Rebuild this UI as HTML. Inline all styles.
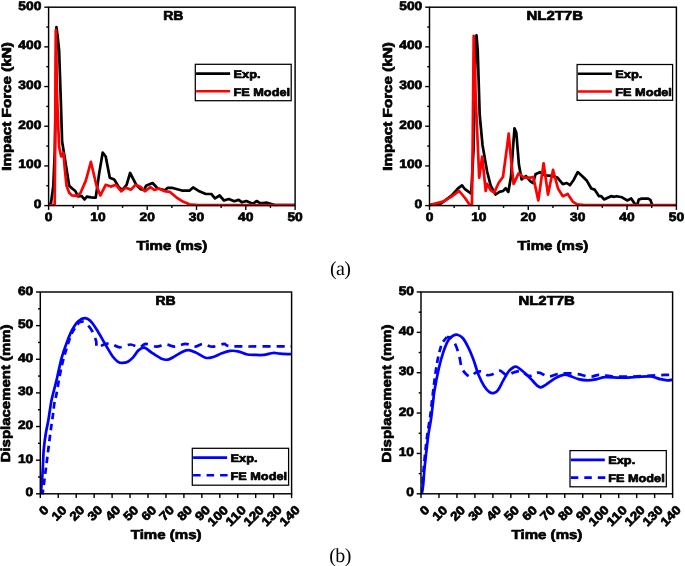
<!DOCTYPE html>
<html><head><meta charset="utf-8"><title>Figure</title>
<style>
html,body{margin:0;padding:0;background:#fff;}
body{width:685px;height:566px;overflow:hidden;font-family:"Liberation Sans",sans-serif;}
svg{display:block;}
svg text{text-rendering:geometricPrecision;font-family:"Liberation Sans",sans-serif;font-weight:bold;fill:#000;stroke:#000;stroke-width:0.7px;stroke-linejoin:round;}
svg text.ser{font-family:"Liberation Serif",serif;font-weight:normal;stroke:none;}
</style></head>
<body>
<svg width="685" height="566" viewBox="0 0 685 566">
<rect x="0" y="0" width="685" height="566" fill="#fff"/>
<clipPath id="c48_7"><rect x="48.6" y="5.2" width="246.50000000000003" height="201.0"/></clipPath>
<g clip-path="url(#c48_7)">
<polyline points="48.6,205.0 51.0,203.0 53.3,186.0 54.8,150.0 55.7,100.0 56.4,27.0 57.6,36.0 59.1,50.3 60.8,100.0 62.1,141.5 64.7,157.4 67.0,172.0 69.2,185.7 72.2,188.5 75.3,191.0 78.0,196.3 81.5,195.9 84.5,199.5 86.8,196.6 91.0,197.3 95.7,197.7 99.2,173.3 102.7,152.5 105.7,156.5 109.8,177.7 114.2,179.5 118.6,186.6 122.2,190.1 126.6,184.8 130.1,173.0 136.3,184.8 140.7,189.2 144.2,190.1 146.0,185.7 149.5,184.3 152.6,183.0 157.7,188.5 165.3,190.2 167.5,187.8 171.9,187.8 182.8,190.7 189.4,190.7 193.1,187.4 199.3,191.3 205.8,194.0 211.3,194.0 215.0,198.3 219.6,195.5 224.0,200.5 228.8,199.0 234.3,201.2 238.7,199.9 242.0,202.3 246.3,201.0 252.9,203.8 256.6,201.0 260.6,203.4 267.1,202.7 274.8,205.0 295.0,205.0" fill="none" stroke="#000" stroke-width="2.7" stroke-linejoin="round" stroke-linecap="butt"/>
<polyline points="48.6,205.0 54.7,205.0 55.1,150.0 55.8,30.0 56.9,90.0 58.2,125.0 59.1,146.8 61.2,156.5 63.5,153.0 64.7,168.0 66.5,185.7 69.2,192.7 71.8,195.4 77.1,195.9 80.6,192.7 85.9,180.4 90.9,161.8 96.5,185.7 100.4,195.4 105.7,184.8 110.7,186.6 116.0,184.8 121.3,191.3 125.7,187.8 131.0,189.6 135.4,184.8 140.7,187.1 145.1,191.3 150.4,187.1 154.4,190.0 158.8,188.5 164.2,191.1 169.7,191.8 176.3,197.3 182.8,201.6 189.4,204.3 198.2,205.1 295.0,205.1" fill="none" stroke="#f00" stroke-width="2.7" stroke-linejoin="round" stroke-linecap="butt"/>
</g>
<rect x="48.60" y="7.20" width="246.50" height="198.40" fill="none" stroke="#000" stroke-width="1.45"/>
<line x1="44.30" y1="205.60" x2="48.60" y2="205.60" stroke="#000" stroke-width="1.4"/>
<line x1="46.30" y1="185.76" x2="48.60" y2="185.76" stroke="#000" stroke-width="1.4"/>
<line x1="44.30" y1="165.92" x2="48.60" y2="165.92" stroke="#000" stroke-width="1.4"/>
<line x1="46.30" y1="146.08" x2="48.60" y2="146.08" stroke="#000" stroke-width="1.4"/>
<line x1="44.30" y1="126.24" x2="48.60" y2="126.24" stroke="#000" stroke-width="1.4"/>
<line x1="46.30" y1="106.40" x2="48.60" y2="106.40" stroke="#000" stroke-width="1.4"/>
<line x1="44.30" y1="86.56" x2="48.60" y2="86.56" stroke="#000" stroke-width="1.4"/>
<line x1="46.30" y1="66.72" x2="48.60" y2="66.72" stroke="#000" stroke-width="1.4"/>
<line x1="44.30" y1="46.88" x2="48.60" y2="46.88" stroke="#000" stroke-width="1.4"/>
<line x1="46.30" y1="27.04" x2="48.60" y2="27.04" stroke="#000" stroke-width="1.4"/>
<line x1="44.30" y1="7.20" x2="48.60" y2="7.20" stroke="#000" stroke-width="1.4"/>
<line x1="48.60" y1="205.60" x2="48.60" y2="209.90" stroke="#000" stroke-width="1.4"/>
<line x1="73.25" y1="205.60" x2="73.25" y2="207.90" stroke="#000" stroke-width="1.4"/>
<line x1="97.90" y1="205.60" x2="97.90" y2="209.90" stroke="#000" stroke-width="1.4"/>
<line x1="122.55" y1="205.60" x2="122.55" y2="207.90" stroke="#000" stroke-width="1.4"/>
<line x1="147.20" y1="205.60" x2="147.20" y2="209.90" stroke="#000" stroke-width="1.4"/>
<line x1="171.85" y1="205.60" x2="171.85" y2="207.90" stroke="#000" stroke-width="1.4"/>
<line x1="196.50" y1="205.60" x2="196.50" y2="209.90" stroke="#000" stroke-width="1.4"/>
<line x1="221.15" y1="205.60" x2="221.15" y2="207.90" stroke="#000" stroke-width="1.4"/>
<line x1="245.80" y1="205.60" x2="245.80" y2="209.90" stroke="#000" stroke-width="1.4"/>
<line x1="270.45" y1="205.60" x2="270.45" y2="207.90" stroke="#000" stroke-width="1.4"/>
<line x1="295.10" y1="205.60" x2="295.10" y2="209.90" stroke="#000" stroke-width="1.4"/>
<rect x="195.3" y="64.3" width="95.89999999999998" height="36.400000000000006" fill="#fff" stroke="#000" stroke-width="1.25"/>
<line x1="196.10" y1="73.60" x2="230.10" y2="73.60" stroke="#000" stroke-width="2.6"/>
<line x1="196.10" y1="91.30" x2="230.10" y2="91.30" stroke="#f00" stroke-width="2.6"/>
<clipPath id="c429_7"><rect x="429.5" y="5.2" width="246.89999999999998" height="201.0"/></clipPath>
<g clip-path="url(#c429_7)">
<polyline points="429.5,205.1 441.2,203.3 451.8,195.4 458.0,188.3 462.0,185.3 465.0,189.2 471.2,193.6 473.5,150.0 475.3,60.0 476.5,35.3 477.7,50.0 479.7,115.0 482.5,145.0 487.1,171.5 490.7,185.7 495.6,194.5 499.5,191.9 503.0,191.0 505.7,188.3 508.3,191.9 511.0,176.8 512.8,150.3 514.5,128.3 516.3,132.7 518.9,164.5 521.6,179.5 526.0,176.0 530.4,181.3 533.1,183.0 535.5,174.3 539.9,172.1 545.3,175.4 551.9,175.8 557.4,177.6 562.8,184.1 566.8,183.0 569.9,185.2 573.8,179.7 577.7,172.1 582.6,176.5 586.9,180.8 591.3,188.5 594.6,189.6 599.0,196.2 601.2,196.2 604.0,199.4 611.0,196.2 614.3,196.8 616.5,196.2 622.0,197.3 627.4,200.5 631.2,198.4 635.1,204.3 637.3,204.3 638.8,199.5 641.7,198.6 648.2,198.6 650.4,199.9 652.2,205.0" fill="none" stroke="#000" stroke-width="2.7" stroke-linejoin="round" stroke-linecap="butt"/>
<polyline points="429.5,205.1 443.0,201.6 451.8,196.3 459.2,191.0 465.0,198.0 469.8,205.1 471.9,205.1 472.3,180.0 472.8,130.0 473.7,35.8 475.8,100.0 479.2,177.7 482.2,156.5 485.7,191.0 487.1,183.9 490.7,190.1 494.2,192.7 498.6,183.0 503.0,176.8 506.6,150.3 508.7,133.6 511.0,159.2 513.6,183.9 518.6,173.3 524.2,177.7 530.0,177.6 533.3,177.1 538.3,200.5 543.6,163.3 548.0,194.6 553.0,169.9 558.0,188.5 562.8,196.2 567.7,194.0 572.7,201.6 577.1,204.3 584.7,205.1 676.0,205.1" fill="none" stroke="#f00" stroke-width="2.7" stroke-linejoin="round" stroke-linecap="butt"/>
</g>
<rect x="429.50" y="7.20" width="246.90" height="198.40" fill="none" stroke="#000" stroke-width="1.45"/>
<line x1="425.20" y1="205.60" x2="429.50" y2="205.60" stroke="#000" stroke-width="1.4"/>
<line x1="427.20" y1="185.76" x2="429.50" y2="185.76" stroke="#000" stroke-width="1.4"/>
<line x1="425.20" y1="165.92" x2="429.50" y2="165.92" stroke="#000" stroke-width="1.4"/>
<line x1="427.20" y1="146.08" x2="429.50" y2="146.08" stroke="#000" stroke-width="1.4"/>
<line x1="425.20" y1="126.24" x2="429.50" y2="126.24" stroke="#000" stroke-width="1.4"/>
<line x1="427.20" y1="106.40" x2="429.50" y2="106.40" stroke="#000" stroke-width="1.4"/>
<line x1="425.20" y1="86.56" x2="429.50" y2="86.56" stroke="#000" stroke-width="1.4"/>
<line x1="427.20" y1="66.72" x2="429.50" y2="66.72" stroke="#000" stroke-width="1.4"/>
<line x1="425.20" y1="46.88" x2="429.50" y2="46.88" stroke="#000" stroke-width="1.4"/>
<line x1="427.20" y1="27.04" x2="429.50" y2="27.04" stroke="#000" stroke-width="1.4"/>
<line x1="425.20" y1="7.20" x2="429.50" y2="7.20" stroke="#000" stroke-width="1.4"/>
<line x1="429.50" y1="205.60" x2="429.50" y2="209.90" stroke="#000" stroke-width="1.4"/>
<line x1="454.19" y1="205.60" x2="454.19" y2="207.90" stroke="#000" stroke-width="1.4"/>
<line x1="478.88" y1="205.60" x2="478.88" y2="209.90" stroke="#000" stroke-width="1.4"/>
<line x1="503.57" y1="205.60" x2="503.57" y2="207.90" stroke="#000" stroke-width="1.4"/>
<line x1="528.26" y1="205.60" x2="528.26" y2="209.90" stroke="#000" stroke-width="1.4"/>
<line x1="552.95" y1="205.60" x2="552.95" y2="207.90" stroke="#000" stroke-width="1.4"/>
<line x1="577.64" y1="205.60" x2="577.64" y2="209.90" stroke="#000" stroke-width="1.4"/>
<line x1="602.33" y1="205.60" x2="602.33" y2="207.90" stroke="#000" stroke-width="1.4"/>
<line x1="627.02" y1="205.60" x2="627.02" y2="209.90" stroke="#000" stroke-width="1.4"/>
<line x1="651.71" y1="205.60" x2="651.71" y2="207.90" stroke="#000" stroke-width="1.4"/>
<line x1="676.40" y1="205.60" x2="676.40" y2="209.90" stroke="#000" stroke-width="1.4"/>
<rect x="577.1" y="64.5" width="95.5" height="35.8" fill="#fff" stroke="#000" stroke-width="1.25"/>
<line x1="577.90" y1="73.80" x2="611.90" y2="73.80" stroke="#000" stroke-width="2.6"/>
<line x1="577.90" y1="91.50" x2="611.90" y2="91.50" stroke="#f00" stroke-width="2.6"/>
<clipPath id="c40_292"><rect x="40.3" y="292.0" width="251.3" height="202.4"/></clipPath>
<g clip-path="url(#c40_292)">
<path d="M40.7,494.0 C41.0,491.2 41.9,482.7 42.3,477.0 C42.7,471.3 43.0,464.5 43.2,460.0 C43.4,455.5 43.3,454.3 43.7,450.0 C44.1,445.7 44.9,439.0 45.7,434.0 C46.5,429.0 47.7,424.1 48.4,420.0 C49.1,415.9 49.4,412.9 50.0,409.4 C50.6,405.9 50.6,404.3 51.8,399.0 C53.0,393.7 55.5,384.5 57.1,377.7 C58.7,370.9 59.9,364.2 61.5,358.3 C63.1,352.4 65.0,347.1 66.8,342.4 C68.6,337.7 70.2,333.5 72.1,330.0 C74.0,326.5 76.1,323.2 78.3,321.2 C80.5,319.2 83.2,318.0 85.4,318.2 C87.6,318.4 89.3,319.7 91.5,322.1 C93.7,324.5 96.2,328.9 98.6,332.7 C101.0,336.5 103.3,341.0 105.7,345.0 C108.1,349.0 110.7,353.7 112.7,356.5 C114.8,359.3 116.4,360.7 118.0,361.8 C119.6,362.9 120.9,362.9 122.5,362.9 C124.1,362.9 126.0,362.7 127.8,361.8 C129.6,360.9 131.3,359.3 133.1,357.4 C134.9,355.5 136.5,352.0 138.4,350.4 C140.3,348.8 142.3,347.3 144.5,347.7 C146.7,348.1 148.9,350.8 151.7,352.6 C154.4,354.4 158.3,357.2 161.0,358.4 C163.7,359.6 165.7,360.0 168.0,359.6 C170.3,359.2 172.5,357.5 175.0,356.1 C177.5,354.7 180.9,352.4 183.2,351.4 C185.5,350.4 186.9,350.0 189.0,350.2 C191.1,350.4 193.3,351.4 196.0,352.6 C198.7,353.9 202.7,356.9 205.4,357.7 C208.1,358.5 209.7,357.9 212.4,357.2 C215.1,356.5 218.9,354.4 221.8,353.3 C224.7,352.2 227.3,351.2 230.0,350.9 C232.7,350.6 235.3,350.8 238.0,351.4 C240.7,351.9 243.6,353.6 246.3,354.2 C249.1,354.8 251.6,354.8 254.5,354.9 C257.4,355.0 260.7,355.2 263.8,354.9 C266.9,354.6 270.4,353.2 273.1,353.0 C275.8,352.8 277.0,353.5 280.0,353.7 C283.0,353.9 289.2,354.1 291.0,354.2" fill="none" stroke="#0000ff" stroke-width="2.7" stroke-linejoin="round"/>
<path d="M41.5,494.0 C41.7,493.8 41.9,496.6 42.6,492.9 C43.3,489.2 44.7,477.8 45.5,471.6 C46.3,465.5 46.7,462.5 47.5,456.0 C48.3,449.5 49.5,439.5 50.4,432.7 C51.3,425.9 52.2,420.0 52.9,415.2 C53.5,410.4 53.8,406.9 54.3,403.6 C54.8,400.3 55.0,401.5 56.2,395.4 C57.4,389.3 59.7,374.9 61.5,367.0 C63.3,359.1 65.0,353.4 66.8,347.7 C68.6,342.0 70.0,337.0 72.1,332.7 C74.2,328.4 78.0,323.9 79.2,322.1" fill="none" stroke="#0000ff" stroke-width="2.7" stroke-linejoin="round" stroke-dasharray="6.5 4.5"/>
<path d="M79.2,322.1 C80.1,322.1 82.5,320.8 84.5,322.1 C86.5,323.4 89.6,326.9 91.5,330.0 C93.4,333.1 95.0,337.7 96.0,340.6 C97.0,343.5 95.6,346.8 97.2,347.3 C98.8,347.8 103.1,344.3 105.7,343.8 C108.3,343.3 110.4,343.9 112.7,344.5 C115.0,345.1 116.8,347.3 119.8,347.3 C122.8,347.3 127.2,344.5 130.4,344.5 C133.6,344.5 136.6,347.4 139.2,347.3 C141.8,347.2 142.9,344.0 145.8,343.9 C148.7,343.8 153.1,346.6 156.4,346.7 C159.7,346.8 162.6,344.4 165.7,344.4 C168.8,344.4 171.7,346.8 175.0,346.7 C178.3,346.6 182.2,343.9 185.5,343.9 C188.8,343.9 192.0,346.7 194.9,346.7 C197.8,346.7 200.1,343.9 203.0,343.9 C205.9,343.9 208.9,346.7 212.4,346.7 C215.9,346.7 220.5,344.0 224.0,343.9 C227.5,343.8 222.2,345.9 233.4,346.3 C244.6,346.7 281.4,346.3 291.0,346.3" fill="none" stroke="#0000ff" stroke-width="2.7" stroke-linejoin="round" stroke-dasharray="8 6" stroke-dashoffset="3.42"/>
</g>
<rect x="40.30" y="292.00" width="251.30" height="201.80" fill="none" stroke="#000" stroke-width="1.45"/>
<line x1="36.00" y1="493.80" x2="40.30" y2="493.80" stroke="#000" stroke-width="1.4"/>
<line x1="38.00" y1="476.98" x2="40.30" y2="476.98" stroke="#000" stroke-width="1.4"/>
<line x1="36.00" y1="460.17" x2="40.30" y2="460.17" stroke="#000" stroke-width="1.4"/>
<line x1="38.00" y1="443.35" x2="40.30" y2="443.35" stroke="#000" stroke-width="1.4"/>
<line x1="36.00" y1="426.53" x2="40.30" y2="426.53" stroke="#000" stroke-width="1.4"/>
<line x1="38.00" y1="409.72" x2="40.30" y2="409.72" stroke="#000" stroke-width="1.4"/>
<line x1="36.00" y1="392.90" x2="40.30" y2="392.90" stroke="#000" stroke-width="1.4"/>
<line x1="38.00" y1="376.08" x2="40.30" y2="376.08" stroke="#000" stroke-width="1.4"/>
<line x1="36.00" y1="359.27" x2="40.30" y2="359.27" stroke="#000" stroke-width="1.4"/>
<line x1="38.00" y1="342.45" x2="40.30" y2="342.45" stroke="#000" stroke-width="1.4"/>
<line x1="36.00" y1="325.63" x2="40.30" y2="325.63" stroke="#000" stroke-width="1.4"/>
<line x1="38.00" y1="308.82" x2="40.30" y2="308.82" stroke="#000" stroke-width="1.4"/>
<line x1="36.00" y1="292.00" x2="40.30" y2="292.00" stroke="#000" stroke-width="1.4"/>
<line x1="40.30" y1="493.80" x2="40.30" y2="498.10" stroke="#000" stroke-width="1.4"/>
<line x1="58.25" y1="493.80" x2="58.25" y2="498.10" stroke="#000" stroke-width="1.4"/>
<line x1="76.20" y1="493.80" x2="76.20" y2="498.10" stroke="#000" stroke-width="1.4"/>
<line x1="94.15" y1="493.80" x2="94.15" y2="498.10" stroke="#000" stroke-width="1.4"/>
<line x1="112.10" y1="493.80" x2="112.10" y2="498.10" stroke="#000" stroke-width="1.4"/>
<line x1="130.05" y1="493.80" x2="130.05" y2="498.10" stroke="#000" stroke-width="1.4"/>
<line x1="148.00" y1="493.80" x2="148.00" y2="498.10" stroke="#000" stroke-width="1.4"/>
<line x1="165.95" y1="493.80" x2="165.95" y2="498.10" stroke="#000" stroke-width="1.4"/>
<line x1="183.90" y1="493.80" x2="183.90" y2="498.10" stroke="#000" stroke-width="1.4"/>
<line x1="201.85" y1="493.80" x2="201.85" y2="498.10" stroke="#000" stroke-width="1.4"/>
<line x1="219.80" y1="493.80" x2="219.80" y2="498.10" stroke="#000" stroke-width="1.4"/>
<line x1="237.75" y1="493.80" x2="237.75" y2="498.10" stroke="#000" stroke-width="1.4"/>
<line x1="255.70" y1="493.80" x2="255.70" y2="498.10" stroke="#000" stroke-width="1.4"/>
<line x1="273.65" y1="493.80" x2="273.65" y2="498.10" stroke="#000" stroke-width="1.4"/>
<line x1="291.60" y1="493.80" x2="291.60" y2="498.10" stroke="#000" stroke-width="1.4"/>
<rect x="192.3" y="448.3" width="96.30000000000001" height="36.89999999999998" fill="#fff" stroke="#000" stroke-width="1.25"/>
<line x1="193.10" y1="457.60" x2="227.10" y2="457.60" stroke="#0000ff" stroke-width="2.6"/>
<line x1="193.10000000000002" y1="475.3" x2="227.60000000000002" y2="475.3" stroke="#0000ff" stroke-width="2.6" stroke-dasharray="7.5 6"/>
<clipPath id="c421_292"><rect x="421.0" y="292.0" width="251.60000000000002" height="202.4"/></clipPath>
<g clip-path="url(#c421_292)">
<path d="M421.6,494.0 C421.7,493.8 421.7,494.3 422.0,492.8 C422.3,491.3 422.8,488.5 423.2,484.8 C423.6,481.1 423.8,476.0 424.3,470.7 C424.8,465.4 425.5,458.9 426.2,453.0 C426.9,447.1 427.5,441.2 428.3,435.3 C429.1,429.4 430.4,423.6 431.2,417.7 C432.0,411.8 432.8,404.4 433.3,400.0 C433.8,395.6 433.5,396.3 434.4,391.0 C435.3,385.7 437.4,374.5 438.9,368.0 C440.4,361.5 441.7,356.8 443.3,352.1 C444.9,347.4 446.8,342.5 448.6,339.7 C450.4,336.9 452.4,336.1 453.9,335.3 C455.4,334.5 455.9,334.4 457.4,334.8 C458.9,335.2 460.9,336.0 462.7,338.0 C464.5,340.0 466.2,343.3 468.0,346.8 C469.8,350.3 471.5,354.5 473.3,359.2 C475.1,363.9 476.8,370.7 478.6,375.1 C480.4,379.5 482.1,382.9 483.9,385.7 C485.7,388.5 487.6,390.7 489.2,391.9 C490.8,393.1 492.1,393.4 493.6,393.1 C495.1,392.8 496.4,392.2 498.0,390.1 C499.6,388.0 501.5,383.5 503.3,380.4 C505.1,377.3 507.0,373.6 508.6,371.5 C510.2,369.4 511.8,368.3 513.1,367.5 C514.4,366.7 515.3,366.4 516.6,366.8 C517.9,367.2 518.9,368.1 521.0,369.8 C523.1,371.5 526.5,374.5 529.3,377.2 C532.0,379.9 535.5,384.2 537.5,385.9 C539.5,387.6 539.6,387.5 541.0,387.3 C542.4,387.1 543.4,386.4 545.7,384.9 C548.0,383.4 552.1,380.1 555.0,378.4 C557.9,376.7 560.9,375.4 563.2,374.9 C565.5,374.4 566.5,374.9 569.0,375.6 C571.5,376.3 575.3,378.3 578.4,379.1 C581.5,379.9 584.6,380.3 587.7,380.3 C590.8,380.3 594.1,379.6 597.0,379.1 C599.9,378.6 601.4,377.4 605.3,377.2 C609.2,377.0 615.1,377.7 620.4,377.7 C625.6,377.7 631.7,377.2 636.8,377.0 C641.9,376.8 646.9,376.1 650.8,376.5 C654.7,376.9 657.5,378.5 660.2,379.1 C662.9,379.7 665.1,380.2 667.2,380.3 C669.3,380.4 672.0,379.7 673.0,379.6" fill="none" stroke="#0000ff" stroke-width="2.7" stroke-linejoin="round"/>
<path d="M421.2,494.0 C421.2,493.8 421.3,494.3 421.5,492.8 C421.7,491.3 422.2,488.5 422.5,484.8 C422.8,481.1 423.1,476.0 423.5,470.7 C423.9,465.4 424.6,458.9 425.2,453.0 C425.8,447.1 426.4,441.2 427.2,435.3 C428.0,429.4 429.4,421.9 430.0,417.7 C430.6,413.5 430.3,415.4 430.9,410.4 C431.5,405.3 432.6,395.3 433.6,387.4 C434.6,379.4 435.8,369.8 437.1,362.7 C438.4,355.6 439.9,349.3 441.5,345.0 C443.1,340.7 445.9,338.4 446.8,337.1" fill="none" stroke="#0000ff" stroke-width="2.7" stroke-linejoin="round" stroke-dasharray="6.5 4.5"/>
<path d="M446.8,337.1 C447.5,337.2 449.7,336.7 451.2,338.0 C452.7,339.3 454.3,342.1 455.6,345.0 C456.9,347.9 458.2,351.8 459.2,355.6 C460.2,359.4 460.6,364.9 461.8,368.0 C463.0,371.1 464.7,372.8 466.2,374.2 C467.7,375.6 469.1,376.8 470.7,376.5 C472.3,376.2 474.2,373.2 476.0,372.4 C477.8,371.6 479.4,371.1 481.3,371.5 C483.2,371.9 485.5,374.7 487.4,375.1 C489.3,375.6 490.6,374.9 492.7,374.2 C494.8,373.5 497.4,370.5 499.8,370.7 C502.2,370.9 504.5,374.8 506.9,375.1 C509.2,375.4 511.5,373.0 513.9,372.4 C516.2,371.8 518.4,370.6 521.0,371.2 C523.6,371.8 526.3,375.8 529.3,376.0 C532.2,376.2 535.6,372.5 538.7,372.6 C541.8,372.7 544.9,376.2 548.0,376.5 C551.1,376.8 554.3,374.7 557.4,374.2 C560.5,373.7 563.2,373.3 566.7,373.3 C570.2,373.3 574.5,373.6 578.4,374.2 C582.3,374.8 586.5,376.7 590.0,376.8 C593.5,376.9 595.5,374.9 599.4,374.9 C603.3,374.8 607.9,376.2 613.4,376.5 C618.9,376.8 625.9,376.6 632.1,376.5 C638.3,376.4 645.3,375.9 650.8,375.6 C656.2,375.3 661.1,375.0 664.8,374.9 C668.5,374.8 671.6,374.7 673.0,374.7" fill="none" stroke="#0000ff" stroke-width="2.7" stroke-linejoin="round" stroke-dasharray="8 6" stroke-dashoffset="2.55"/>
</g>
<rect x="421.00" y="292.00" width="251.60" height="201.80" fill="none" stroke="#000" stroke-width="1.45"/>
<line x1="416.70" y1="493.80" x2="421.00" y2="493.80" stroke="#000" stroke-width="1.4"/>
<line x1="418.70" y1="473.62" x2="421.00" y2="473.62" stroke="#000" stroke-width="1.4"/>
<line x1="416.70" y1="453.44" x2="421.00" y2="453.44" stroke="#000" stroke-width="1.4"/>
<line x1="418.70" y1="433.26" x2="421.00" y2="433.26" stroke="#000" stroke-width="1.4"/>
<line x1="416.70" y1="413.08" x2="421.00" y2="413.08" stroke="#000" stroke-width="1.4"/>
<line x1="418.70" y1="392.90" x2="421.00" y2="392.90" stroke="#000" stroke-width="1.4"/>
<line x1="416.70" y1="372.72" x2="421.00" y2="372.72" stroke="#000" stroke-width="1.4"/>
<line x1="418.70" y1="352.54" x2="421.00" y2="352.54" stroke="#000" stroke-width="1.4"/>
<line x1="416.70" y1="332.36" x2="421.00" y2="332.36" stroke="#000" stroke-width="1.4"/>
<line x1="418.70" y1="312.18" x2="421.00" y2="312.18" stroke="#000" stroke-width="1.4"/>
<line x1="416.70" y1="292.00" x2="421.00" y2="292.00" stroke="#000" stroke-width="1.4"/>
<line x1="421.00" y1="493.80" x2="421.00" y2="498.10" stroke="#000" stroke-width="1.4"/>
<line x1="438.97" y1="493.80" x2="438.97" y2="498.10" stroke="#000" stroke-width="1.4"/>
<line x1="456.94" y1="493.80" x2="456.94" y2="498.10" stroke="#000" stroke-width="1.4"/>
<line x1="474.91" y1="493.80" x2="474.91" y2="498.10" stroke="#000" stroke-width="1.4"/>
<line x1="492.89" y1="493.80" x2="492.89" y2="498.10" stroke="#000" stroke-width="1.4"/>
<line x1="510.86" y1="493.80" x2="510.86" y2="498.10" stroke="#000" stroke-width="1.4"/>
<line x1="528.83" y1="493.80" x2="528.83" y2="498.10" stroke="#000" stroke-width="1.4"/>
<line x1="546.80" y1="493.80" x2="546.80" y2="498.10" stroke="#000" stroke-width="1.4"/>
<line x1="564.77" y1="493.80" x2="564.77" y2="498.10" stroke="#000" stroke-width="1.4"/>
<line x1="582.74" y1="493.80" x2="582.74" y2="498.10" stroke="#000" stroke-width="1.4"/>
<line x1="600.71" y1="493.80" x2="600.71" y2="498.10" stroke="#000" stroke-width="1.4"/>
<line x1="618.69" y1="493.80" x2="618.69" y2="498.10" stroke="#000" stroke-width="1.4"/>
<line x1="636.66" y1="493.80" x2="636.66" y2="498.10" stroke="#000" stroke-width="1.4"/>
<line x1="654.63" y1="493.80" x2="654.63" y2="498.10" stroke="#000" stroke-width="1.4"/>
<line x1="672.60" y1="493.80" x2="672.60" y2="498.10" stroke="#000" stroke-width="1.4"/>
<rect x="570.0" y="450.6" width="96.29999999999995" height="36.19999999999999" fill="#fff" stroke="#000" stroke-width="1.25"/>
<line x1="570.80" y1="459.90" x2="604.80" y2="459.90" stroke="#0000ff" stroke-width="2.6"/>
<line x1="570.8" y1="477.6" x2="605.3" y2="477.6" stroke="#0000ff" stroke-width="2.6" stroke-dasharray="7.5 6"/>
<g opacity="0.999">
<text x="41.40" y="208.10" font-size="12.2" text-anchor="end" textLength="7.67" lengthAdjust="spacingAndGlyphs">0</text>
<text x="41.40" y="168.42" font-size="12.2" text-anchor="end" textLength="23.01" lengthAdjust="spacingAndGlyphs">100</text>
<text x="41.40" y="128.74" font-size="12.2" text-anchor="end" textLength="23.01" lengthAdjust="spacingAndGlyphs">200</text>
<text x="41.40" y="89.06" font-size="12.2" text-anchor="end" textLength="23.01" lengthAdjust="spacingAndGlyphs">300</text>
<text x="41.40" y="49.38" font-size="12.2" text-anchor="end" textLength="23.01" lengthAdjust="spacingAndGlyphs">400</text>
<text x="41.40" y="9.70" font-size="12.2" text-anchor="end" textLength="23.01" lengthAdjust="spacingAndGlyphs">500</text>
<text x="48.60" y="221.10" font-size="12.2" text-anchor="middle" textLength="7.67" lengthAdjust="spacingAndGlyphs">0</text>
<text x="97.90" y="221.10" font-size="12.2" text-anchor="middle" textLength="15.34" lengthAdjust="spacingAndGlyphs">10</text>
<text x="147.20" y="221.10" font-size="12.2" text-anchor="middle" textLength="15.34" lengthAdjust="spacingAndGlyphs">20</text>
<text x="196.50" y="221.10" font-size="12.2" text-anchor="middle" textLength="15.34" lengthAdjust="spacingAndGlyphs">30</text>
<text x="245.80" y="221.10" font-size="12.2" text-anchor="middle" textLength="15.34" lengthAdjust="spacingAndGlyphs">40</text>
<text x="295.10" y="221.10" font-size="12.2" text-anchor="middle" textLength="15.34" lengthAdjust="spacingAndGlyphs">50</text>
<text x="171.85" y="249.60" font-size="13" text-anchor="middle" textLength="70.77" lengthAdjust="spacingAndGlyphs">Time (ms)</text>
<text x="11.00" y="106.40" font-size="13" text-anchor="middle" textLength="128.57" lengthAdjust="spacingAndGlyphs" transform="rotate(-90 11.00 106.40)">Impact Force (kN)</text>
<text x="163.20" y="19.90" font-size="13" text-anchor="start" textLength="20.23" lengthAdjust="spacingAndGlyphs">RB</text>
<text x="233.50" y="78.00" font-size="11" text-anchor="start" textLength="27.00" lengthAdjust="spacingAndGlyphs">Exp.</text>
<text x="233.50" y="95.80" font-size="11" text-anchor="start" textLength="56.50" lengthAdjust="spacingAndGlyphs">FE Model</text>
<text x="422.30" y="208.10" font-size="12.2" text-anchor="end" textLength="7.67" lengthAdjust="spacingAndGlyphs">0</text>
<text x="422.30" y="168.42" font-size="12.2" text-anchor="end" textLength="23.01" lengthAdjust="spacingAndGlyphs">100</text>
<text x="422.30" y="128.74" font-size="12.2" text-anchor="end" textLength="23.01" lengthAdjust="spacingAndGlyphs">200</text>
<text x="422.30" y="89.06" font-size="12.2" text-anchor="end" textLength="23.01" lengthAdjust="spacingAndGlyphs">300</text>
<text x="422.30" y="49.38" font-size="12.2" text-anchor="end" textLength="23.01" lengthAdjust="spacingAndGlyphs">400</text>
<text x="422.30" y="9.70" font-size="12.2" text-anchor="end" textLength="23.01" lengthAdjust="spacingAndGlyphs">500</text>
<text x="429.50" y="221.10" font-size="12.2" text-anchor="middle" textLength="7.67" lengthAdjust="spacingAndGlyphs">0</text>
<text x="478.88" y="221.10" font-size="12.2" text-anchor="middle" textLength="15.34" lengthAdjust="spacingAndGlyphs">10</text>
<text x="528.26" y="221.10" font-size="12.2" text-anchor="middle" textLength="15.34" lengthAdjust="spacingAndGlyphs">20</text>
<text x="577.64" y="221.10" font-size="12.2" text-anchor="middle" textLength="15.34" lengthAdjust="spacingAndGlyphs">30</text>
<text x="627.02" y="221.10" font-size="12.2" text-anchor="middle" textLength="15.34" lengthAdjust="spacingAndGlyphs">40</text>
<text x="676.40" y="221.10" font-size="12.2" text-anchor="middle" textLength="15.34" lengthAdjust="spacingAndGlyphs">50</text>
<text x="552.95" y="249.60" font-size="13" text-anchor="middle" textLength="70.77" lengthAdjust="spacingAndGlyphs">Time (ms)</text>
<text x="391.90" y="106.40" font-size="13" text-anchor="middle" textLength="128.57" lengthAdjust="spacingAndGlyphs" transform="rotate(-90 391.90 106.40)">Impact Force (kN)</text>
<text x="526.60" y="19.90" font-size="13" text-anchor="start" textLength="56.34" lengthAdjust="spacingAndGlyphs">NL2T7B</text>
<text x="615.30" y="78.20" font-size="11" text-anchor="start" textLength="27.00" lengthAdjust="spacingAndGlyphs">Exp.</text>
<text x="615.30" y="96.00" font-size="11" text-anchor="start" textLength="56.50" lengthAdjust="spacingAndGlyphs">FE Model</text>
<text x="33.30" y="496.30" font-size="12.2" text-anchor="end" textLength="7.67" lengthAdjust="spacingAndGlyphs">0</text>
<text x="33.30" y="462.67" font-size="12.2" text-anchor="end" textLength="15.34" lengthAdjust="spacingAndGlyphs">10</text>
<text x="33.30" y="429.03" font-size="12.2" text-anchor="end" textLength="15.34" lengthAdjust="spacingAndGlyphs">20</text>
<text x="33.30" y="395.40" font-size="12.2" text-anchor="end" textLength="15.34" lengthAdjust="spacingAndGlyphs">30</text>
<text x="33.30" y="361.77" font-size="12.2" text-anchor="end" textLength="15.34" lengthAdjust="spacingAndGlyphs">40</text>
<text x="33.30" y="328.13" font-size="12.2" text-anchor="end" textLength="15.34" lengthAdjust="spacingAndGlyphs">50</text>
<text x="33.30" y="294.50" font-size="12.2" text-anchor="end" textLength="15.34" lengthAdjust="spacingAndGlyphs">60</text>
<text x="49.40" y="510.70" font-size="12.2" text-anchor="end" textLength="7.67" lengthAdjust="spacingAndGlyphs" transform="rotate(-45 49.40 510.70)">0</text>
<text x="67.35" y="510.70" font-size="12.2" text-anchor="end" textLength="15.34" lengthAdjust="spacingAndGlyphs" transform="rotate(-45 67.35 510.70)">10</text>
<text x="85.30" y="510.70" font-size="12.2" text-anchor="end" textLength="15.34" lengthAdjust="spacingAndGlyphs" transform="rotate(-45 85.30 510.70)">20</text>
<text x="103.25" y="510.70" font-size="12.2" text-anchor="end" textLength="15.34" lengthAdjust="spacingAndGlyphs" transform="rotate(-45 103.25 510.70)">30</text>
<text x="121.20" y="510.70" font-size="12.2" text-anchor="end" textLength="15.34" lengthAdjust="spacingAndGlyphs" transform="rotate(-45 121.20 510.70)">40</text>
<text x="139.15" y="510.70" font-size="12.2" text-anchor="end" textLength="15.34" lengthAdjust="spacingAndGlyphs" transform="rotate(-45 139.15 510.70)">50</text>
<text x="157.10" y="510.70" font-size="12.2" text-anchor="end" textLength="15.34" lengthAdjust="spacingAndGlyphs" transform="rotate(-45 157.10 510.70)">60</text>
<text x="175.05" y="510.70" font-size="12.2" text-anchor="end" textLength="15.34" lengthAdjust="spacingAndGlyphs" transform="rotate(-45 175.05 510.70)">70</text>
<text x="193.00" y="510.70" font-size="12.2" text-anchor="end" textLength="15.34" lengthAdjust="spacingAndGlyphs" transform="rotate(-45 193.00 510.70)">80</text>
<text x="210.95" y="510.70" font-size="12.2" text-anchor="end" textLength="15.34" lengthAdjust="spacingAndGlyphs" transform="rotate(-45 210.95 510.70)">90</text>
<text x="228.90" y="510.70" font-size="12.2" text-anchor="end" textLength="23.01" lengthAdjust="spacingAndGlyphs" transform="rotate(-45 228.90 510.70)">100</text>
<text x="246.85" y="510.70" font-size="12.2" text-anchor="end" textLength="23.01" lengthAdjust="spacingAndGlyphs" transform="rotate(-45 246.85 510.70)">110</text>
<text x="264.80" y="510.70" font-size="12.2" text-anchor="end" textLength="23.01" lengthAdjust="spacingAndGlyphs" transform="rotate(-45 264.80 510.70)">120</text>
<text x="282.75" y="510.70" font-size="12.2" text-anchor="end" textLength="23.01" lengthAdjust="spacingAndGlyphs" transform="rotate(-45 282.75 510.70)">130</text>
<text x="300.70" y="510.70" font-size="12.2" text-anchor="end" textLength="23.01" lengthAdjust="spacingAndGlyphs" transform="rotate(-45 300.70 510.70)">140</text>
<text x="166.15" y="538.50" font-size="13" text-anchor="middle" textLength="70.77" lengthAdjust="spacingAndGlyphs">Time (ms)</text>
<text x="10.00" y="393.40" font-size="13" text-anchor="middle" textLength="137.96" lengthAdjust="spacingAndGlyphs" transform="rotate(-90 10.00 393.40)">Displacement (mm)</text>
<text x="155.50" y="305.00" font-size="13" text-anchor="start" textLength="20.23" lengthAdjust="spacingAndGlyphs">RB</text>
<text x="230.50" y="462.00" font-size="11" text-anchor="start" textLength="27.00" lengthAdjust="spacingAndGlyphs">Exp.</text>
<text x="230.50" y="479.80" font-size="11" text-anchor="start" textLength="56.50" lengthAdjust="spacingAndGlyphs">FE Model</text>
<text x="414.00" y="496.30" font-size="12.2" text-anchor="end" textLength="7.67" lengthAdjust="spacingAndGlyphs">0</text>
<text x="414.00" y="455.94" font-size="12.2" text-anchor="end" textLength="15.34" lengthAdjust="spacingAndGlyphs">10</text>
<text x="414.00" y="415.58" font-size="12.2" text-anchor="end" textLength="15.34" lengthAdjust="spacingAndGlyphs">20</text>
<text x="414.00" y="375.22" font-size="12.2" text-anchor="end" textLength="15.34" lengthAdjust="spacingAndGlyphs">30</text>
<text x="414.00" y="334.86" font-size="12.2" text-anchor="end" textLength="15.34" lengthAdjust="spacingAndGlyphs">40</text>
<text x="414.00" y="294.50" font-size="12.2" text-anchor="end" textLength="15.34" lengthAdjust="spacingAndGlyphs">50</text>
<text x="430.10" y="510.70" font-size="12.2" text-anchor="end" textLength="7.67" lengthAdjust="spacingAndGlyphs" transform="rotate(-45 430.10 510.70)">0</text>
<text x="448.07" y="510.70" font-size="12.2" text-anchor="end" textLength="15.34" lengthAdjust="spacingAndGlyphs" transform="rotate(-45 448.07 510.70)">10</text>
<text x="466.04" y="510.70" font-size="12.2" text-anchor="end" textLength="15.34" lengthAdjust="spacingAndGlyphs" transform="rotate(-45 466.04 510.70)">20</text>
<text x="484.01" y="510.70" font-size="12.2" text-anchor="end" textLength="15.34" lengthAdjust="spacingAndGlyphs" transform="rotate(-45 484.01 510.70)">30</text>
<text x="501.99" y="510.70" font-size="12.2" text-anchor="end" textLength="15.34" lengthAdjust="spacingAndGlyphs" transform="rotate(-45 501.99 510.70)">40</text>
<text x="519.96" y="510.70" font-size="12.2" text-anchor="end" textLength="15.34" lengthAdjust="spacingAndGlyphs" transform="rotate(-45 519.96 510.70)">50</text>
<text x="537.93" y="510.70" font-size="12.2" text-anchor="end" textLength="15.34" lengthAdjust="spacingAndGlyphs" transform="rotate(-45 537.93 510.70)">60</text>
<text x="555.90" y="510.70" font-size="12.2" text-anchor="end" textLength="15.34" lengthAdjust="spacingAndGlyphs" transform="rotate(-45 555.90 510.70)">70</text>
<text x="573.87" y="510.70" font-size="12.2" text-anchor="end" textLength="15.34" lengthAdjust="spacingAndGlyphs" transform="rotate(-45 573.87 510.70)">80</text>
<text x="591.84" y="510.70" font-size="12.2" text-anchor="end" textLength="15.34" lengthAdjust="spacingAndGlyphs" transform="rotate(-45 591.84 510.70)">90</text>
<text x="609.81" y="510.70" font-size="12.2" text-anchor="end" textLength="23.01" lengthAdjust="spacingAndGlyphs" transform="rotate(-45 609.81 510.70)">100</text>
<text x="627.79" y="510.70" font-size="12.2" text-anchor="end" textLength="23.01" lengthAdjust="spacingAndGlyphs" transform="rotate(-45 627.79 510.70)">110</text>
<text x="645.76" y="510.70" font-size="12.2" text-anchor="end" textLength="23.01" lengthAdjust="spacingAndGlyphs" transform="rotate(-45 645.76 510.70)">120</text>
<text x="663.73" y="510.70" font-size="12.2" text-anchor="end" textLength="23.01" lengthAdjust="spacingAndGlyphs" transform="rotate(-45 663.73 510.70)">130</text>
<text x="681.70" y="510.70" font-size="12.2" text-anchor="end" textLength="23.01" lengthAdjust="spacingAndGlyphs" transform="rotate(-45 681.70 510.70)">140</text>
<text x="547.00" y="538.50" font-size="13" text-anchor="middle" textLength="70.77" lengthAdjust="spacingAndGlyphs">Time (ms)</text>
<text x="390.70" y="393.40" font-size="13" text-anchor="middle" textLength="137.96" lengthAdjust="spacingAndGlyphs" transform="rotate(-90 390.70 393.40)">Displacement (mm)</text>
<text x="518.50" y="305.00" font-size="13" text-anchor="start" textLength="56.34" lengthAdjust="spacingAndGlyphs">NL2T7B</text>
<text x="608.20" y="464.30" font-size="11" text-anchor="start" textLength="27.00" lengthAdjust="spacingAndGlyphs">Exp.</text>
<text x="608.20" y="482.10" font-size="11" text-anchor="start" textLength="56.50" lengthAdjust="spacingAndGlyphs">FE Model</text>
<text class="ser" x="340.4" y="275" font-size="20" text-anchor="middle" textLength="21.0" lengthAdjust="spacing">(a)</text>
<text class="ser" x="340.3" y="562.2" font-size="20" text-anchor="middle" textLength="22.2" lengthAdjust="spacing">(b)</text>
</g>
</svg>
</body></html>
